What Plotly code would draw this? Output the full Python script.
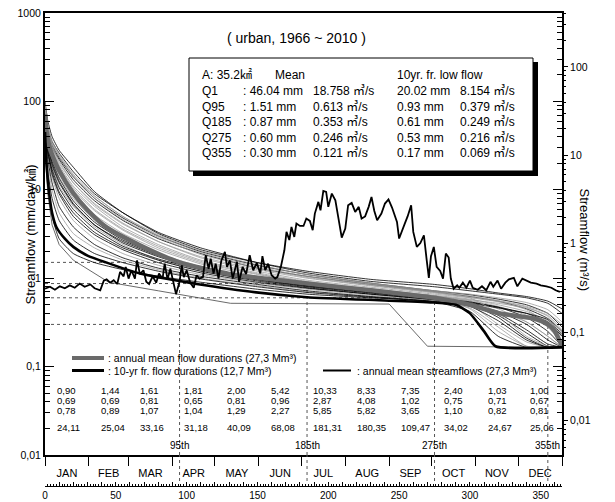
import math
import plotly.graph_objects as go

# ---------------- data ----------------
AREA_KM2 = 35.2
MONTHS = ["JAN", "FEB", "MAR", "APR", "MAY", "JUN", "JUL", "AUG", "SEP", "OCT", "NOV", "DEC"]
MONTH_START = [0, 31, 59, 90, 120, 151, 181, 212, 243, 273, 304, 334, 365]

TABLE_ROW1 = [0.90, 1.44, 1.61, 1.81, 2.00, 5.42, 10.33, 8.33, 7.35, 2.40, 1.03, 1.00]
TABLE_ROW2 = [0.69, 0.69, 0.81, 0.65, 0.81, 0.96, 2.87, 4.08, 1.02, 0.75, 0.71, 0.67]
TABLE_ROW3 = [0.78, 0.89, 1.07, 1.04, 1.29, 2.27, 5.85, 5.82, 3.65, 1.10, 0.82, 0.81]
TABLE_ROW4 = [24.11, 25.04, 33.16, 31.18, 40.09, 68.08, 181.31, 180.35, 109.47, 34.02, 24.67, 25.06]

Q_LABELS = ["Q1", "Q95", "Q185", "Q275", "Q355"]
Q_DAYS = [1, 95, 185, 275, 355]
Q_MEAN_MM = [46.04, 1.51, 0.87, 0.60, 0.30]
Q_MEAN_CMS = [18.758, 0.613, 0.353, 0.246, 0.121]
Q_10YR_MM = [20.02, 0.93, 0.61, 0.53, 0.17]
Q_10YR_CMS = [8.154, 0.379, 0.249, 0.216, 0.069]

# annual flow-duration curves (mm/day) read at these duration days
DAYS = [0, 2, 5, 10, 20, 35, 55, 80, 110, 150, 185, 230, 275, 300, 320, 340, 355, 365]
ANNUAL_FLOW = [
    [90, 45, 30, 22, 13, 7.5, 4.5, 2.8, 1.9, 1.3, 1.05, 0.85, 0.70, 0.62, 0.55, 0.45, 0.35, 0.25],
    [60, 30, 18, 11, 6.5, 3.8, 2.4, 1.6, 1.2, 0.95, 0.80, 0.68, 0.58, 0.50, 0.30, 0.19, 0.165, 0.165],
    [80, 50, 35, 26, 16, 9, 5.5, 3.3, 2.2, 1.5, 1.15, 0.92, 0.80, 0.72, 0.66, 0.60, 0.52, 0.40],
    [40, 20, 10, 5.5, 3.2, 2.2, 1.6, 1.25, 1.0, 0.82, 0.70, 0.62, 0.55, 0.46, 0.28, 0.17, 0.165, 0.165],
    [100, 60, 40, 28, 18, 9.5, 5.5, 3.2, 2.1, 1.5, 1.2, 0.97, 0.85, 0.76, 0.68, 0.62, 0.55, 0.45],
    [70, 35, 22, 14, 8, 4.5, 2.8, 1.9, 1.35, 1.0, 0.85, 0.72, 0.62, 0.56, 0.48, 0.38, 0.28, 0.18],
    [55, 28, 16, 9.5, 5.5, 3.3, 2.2, 1.6, 1.2, 0.93, 0.78, 0.66, 0.57, 0.48, 0.33, 0.20, 0.165, 0.165],
    [75, 42, 28, 19, 11, 6.5, 3.8, 2.4, 1.6, 1.15, 0.92, 0.76, 0.64, 0.58, 0.50, 0.42, 0.33, 0.22],
    [30, 12, 5, 2.8, 1.9, 1.5, 1.25, 1.05, 0.90, 0.75, 0.66, 0.60, 0.55, 0.50, 0.42, 0.30, 0.20, 0.165],
    [65, 38, 25, 17, 10, 5.8, 3.5, 2.2, 1.5, 1.1, 0.90, 0.75, 0.63, 0.55, 0.45, 0.32, 0.22, 0.165],
    [85, 48, 32, 23, 14, 8, 4.8, 3.0, 2.0, 1.4, 1.1, 0.88, 0.72, 0.65, 0.58, 0.50, 0.40, 0.28],
    [50, 25, 14, 8, 4.5, 2.8, 1.9, 1.4, 1.1, 0.88, 0.75, 0.64, 0.56, 0.50, 0.42, 0.32, 0.22, 0.165],
    [45, 22, 12, 6.5, 3.8, 2.4, 1.7, 1.3, 1.05, 0.85, 0.72, 0.62, 0.54, 0.42, 0.22, 0.165, 0.165, 0.165],
    [95, 55, 36, 25, 15, 8.5, 5.0, 3.0, 1.95, 1.35, 1.05, 0.85, 0.70, 0.63, 0.56, 0.48, 0.40, 0.30],
    [68, 33, 20, 12.5, 7, 4.0, 2.6, 1.8, 1.3, 1.0, 0.83, 0.70, 0.60, 0.54, 0.47, 0.40, 0.32, 0.22],
    [78, 40, 26, 18, 10.5, 6, 3.6, 2.3, 1.55, 1.12, 0.90, 0.75, 0.63, 0.57, 0.52, 0.46, 0.38, 0.26],
    [58, 32, 21, 13.5, 7.5, 4.3, 2.7, 1.85, 1.3, 0.98, 0.82, 0.70, 0.60, 0.52, 0.38, 0.24, 0.17, 0.165],
    [88, 46, 31, 21, 12, 6.8, 4.1, 2.6, 1.75, 1.25, 1.0, 0.82, 0.68, 0.61, 0.55, 0.47, 0.37, 0.24],
    [48, 26, 17, 10.5, 6, 3.6, 2.3, 1.65, 1.25, 0.96, 0.80, 0.68, 0.58, 0.53, 0.47, 0.36, 0.25, 0.17],
    [72, 44, 30, 20, 12, 7, 4.2, 2.6, 1.7, 1.2, 0.95, 0.79, 0.66, 0.60, 0.54, 0.44, 0.30, 0.19],
    [62, 30, 19, 12, 6.8, 4, 2.5, 1.75, 1.25, 0.97, 0.82, 0.69, 0.59, 0.51, 0.36, 0.21, 0.165, 0.165],
    [82, 52, 34, 24, 14, 8.5, 5, 3.1, 2.05, 1.42, 1.1, 0.88, 0.72, 0.66, 0.60, 0.53, 0.44, 0.32],
    [38, 16, 8, 4.5, 2.7, 1.9, 1.5, 1.2, 0.98, 0.80, 0.69, 0.61, 0.54, 0.49, 0.40, 0.26, 0.18, 0.165],
    [66, 36, 23, 15, 8.8, 5.2, 3.2, 2.1, 1.45, 1.05, 0.86, 0.73, 0.62, 0.45, 0.25, 0.17, 0.165, 0.165],
    [52, 27, 15, 9, 5, 3.1, 2.1, 1.5, 1.15, 0.9, 0.77, 0.66, 0.57, 0.52, 0.46, 0.40, 0.34, 0.23],
    [92, 50, 33, 24, 14.5, 8, 4.6, 2.9, 1.85, 1.3, 1.02, 0.83, 0.69, 0.60, 0.40, 0.22, 0.17, 0.165],
]

# driest year duration curve
DRY_DAYS = [0, 2, 5, 10, 20, 45, 80, 110, 131, 243, 256, 270, 365]
DRY_VALS = [28, 9, 4, 2.4, 1.6, 0.9, 0.72, 0.60, 0.52, 0.51, 0.30, 0.17, 0.165]

# annual mean flow duration curve
MEAN_DAYS = [0, 1, 3, 5, 10, 20, 30, 43, 67, 95, 130, 185, 230, 275, 300, 321, 345, 355, 360, 365]
MEAN_VALS = [72, 46.04, 31, 25, 16.5, 9.1, 5.9, 3.8, 2.36, 1.51, 1.12, 0.87, 0.73, 0.60, 0.50, 0.40, 0.35, 0.30, 0.25, 0.17]

# 10-yr frequency flow duration curve
TENYR_DAYS = [0, 1, 3, 5, 8, 14, 20, 30, 43, 67, 95, 140, 185, 240, 275, 290, 300, 310, 318, 365]
TENYR_VALS = [45, 20.02, 9, 5.5, 3.8, 2.8, 2.26, 1.8, 1.51, 1.13, 0.93, 0.72, 0.61, 0.56, 0.53, 0.50, 0.40, 0.25, 0.17, 0.165]

# annual mean daily streamflow (mm/day) by day of year
HYDRO_DAYS = [0, 3.5, 7, 10.5, 14, 17.5, 21, 24.5, 28, 32, 35, 39, 41.5, 43.5, 46, 48.5, 51, 53, 55.5, 57,
              59, 61, 63.5, 65, 67, 69.5, 71.5, 73.5, 76, 78.5, 80.5, 83, 84.5, 86.5, 88.5, 90.5, 92.5, 95, 96.5, 98,
              100, 102.5, 105, 107, 109, 111.5, 113.5, 115.5, 117, 119, 120.5, 122.5, 124.5, 127, 128.5, 130.5, 132.5, 135.5, 137, 139.5,
              142, 144.5, 147, 149.5, 152, 153.5, 155.5, 157.5, 160, 162.5, 164, 166.5, 169, 170.5, 172.5, 174, 176, 177.5, 180, 182.5,
              184.5, 187, 189, 190.5, 193, 194.5, 196.5, 198.5, 200, 202.5, 205, 207, 209.5, 212, 214, 216.5, 219, 221.5, 223.5, 226,
              228.5, 230.5, 232.5, 234.5, 237.5, 240, 242.5, 245, 248.5, 250, 252, 254, 256, 258.5, 260, 262.5, 265, 267.5, 269.5, 271,
              272.5, 274.5, 276.5, 279, 281, 283, 285, 286.5, 288.5, 291, 292.5, 295, 297.5, 300, 302, 305.5, 308.5, 311.5, 314.5, 316.5,
              319.5, 322, 325, 327.5, 331, 333.5, 337, 340, 343, 347, 350, 354, 357.5, 360.5, 363.5]
HYDRO_VALS = [0.76, 0.80, 0.74, 0.81, 0.77, 0.83, 0.78, 0.87, 0.80, 0.85, 0.77, 0.73, 0.94, 0.97, 0.89, 0.95, 0.86, 1.18, 1.05, 1.34,
              0.99, 1.23, 0.99, 1.59, 1.11, 1.23, 0.91, 0.86, 1.05, 0.89, 1.13, 0.99, 1.46, 0.97, 1.28, 0.91, 0.66, 0.91, 1.40, 1.03,
              1.23, 0.89, 0.78, 1.08, 0.99, 1.03, 1.82, 1.28, 1.66, 1.13, 1.46, 0.99, 1.59, 1.98, 1.34, 1.59, 0.99, 1.54, 0.91, 1.34,
              1.11, 1.82, 1.23, 1.49, 1.13, 1.78, 1.23, 1.46, 1.08, 0.99, 1.03, 1.34, 2.07, 3.34, 2.7, 3.8, 2.93, 4.15, 3.9, 3.9,
              4.73, 4.45, 3.49, 5.38, 7.3, 5.87, 9.7, 9.47, 6.41, 9.07, 7.62, 4.94, 2.88, 3.64, 6.69, 7.1, 5.62, 6.41, 4.73, 5.0,
              6.41, 8.3, 5.77, 4.53, 5.38, 6.99, 7.8, 6.3, 4.33, 2.81, 3.34, 4.15, 5.0, 6.69, 3.34, 2.26, 2.5, 3.06, 1.59, 1.01,
              1.77, 2.26, 1.34, 1.21, 0.99, 1.90, 1.71, 0.99, 0.76, 0.83, 0.78, 0.89, 0.78, 0.94, 0.78, 0.74, 0.81, 0.73, 0.91, 0.80,
              0.94, 0.76, 0.89, 0.97, 1.01, 0.81, 0.99, 0.94, 0.89, 0.87, 0.83, 0.81, 0.78, 0.73, 0.70]

LEFT_TICKS = [0.01, 0.1, 1, 10, 100, 1000]
RIGHT_TICKS = [0.01, 0.1, 1, 10, 100]
DAY_TICKS = list(range(0, 361, 10))

# ---------------- layout helpers ----------------
W, H = 615, 502
ML, MR, MT, MB = 45, 53, 13, 16
PW, PH = W - ML - MR, H - MT - MB


def px(x):
    return (x - ML) / PW


def py(y):
    return (H - MB - y) / PH


def comma(v):
    return f"{v:.2f}".replace(".", ",")


def tick_txt(v):
    return (f"{v:g}").replace(".", ",")


SANS = "Liberation Sans, Arial, Noto Sans CJK KR, sans-serif"
NARROW = "Liberation Sans Narrow, Arial Narrow, Liberation Sans, Arial, sans-serif"
CJK = "Liberation Sans, Noto Sans CJK KR, sans-serif"

FACTOR = AREA_KM2 * 1000 / 86400.0  # mm/day -> m3/s
GREY = "#9c9c9c"
MEAN_GREY = "#6a6a6a"

fig = go.Figure()

for i, vals in enumerate(ANNUAL_FLOW):
    fig.add_trace(go.Scatter(x=DAYS, y=vals, mode="lines",
                             line=dict(color="#000000" if i % 2 == 0 else GREY, width=0.8,
                                       shape="spline", smoothing=0.5),
                             hoverinfo="skip"))
fig.add_trace(go.Scatter(x=DRY_DAYS, y=DRY_VALS, mode="lines",
                         line=dict(color="#444444", width=0.8), hoverinfo="skip"))
fig.add_trace(go.Scatter(x=MEAN_DAYS, y=MEAN_VALS, mode="lines",
                         line=dict(color=MEAN_GREY, width=4.5, shape="spline", smoothing=0.6),
                         hoverinfo="skip"))
fig.add_trace(go.Scatter(x=TENYR_DAYS, y=TENYR_VALS, mode="lines",
                         line=dict(color="black", width=2.6, shape="spline", smoothing=0.5),
                         hoverinfo="skip"))
fig.add_trace(go.Scatter(x=HYDRO_DAYS, y=HYDRO_VALS, mode="lines",
                         line=dict(color="black", width=1.8), hoverinfo="skip"))
# right axis (m3/s) and day-ruler axis anchors
fig.add_trace(go.Scatter(x=[None], y=[None], yaxis="y2", hoverinfo="skip"))
fig.add_trace(go.Scatter(x=[None], y=[None], xaxis="x2", hoverinfo="skip"))

shapes = []
# dashed reference lines at Q95, Q185, Q275, Q355
for d, v in zip(Q_DAYS[1:], Q_MEAN_MM[1:]):
    dash = dict(color="#555555", width=1, dash="3px,3px")
    shapes.append(dict(type="line", xref="x", yref="y", x0=0, x1=d, y0=v, y1=v, line=dash, layer="below"))
    shapes.append(dict(type="line", xref="x", yref="y", x0=d, x1=d, y0=0.01, y1=v, line=dash, layer="below"))
    shapes.append(dict(type="line", xref="x", yref="paper", x0=d, x1=d, y0=py(481), y1=py(455), line=dash))

# info box with drop shadow
shapes.append(dict(type="rect", xref="paper", yref="paper", x0=px(193), x1=px(538), y0=py(176), y1=py(62),
                   fillcolor="black", line=dict(width=0), layer="above"))
shapes.append(dict(type="rect", xref="paper", yref="paper", x0=px(189), x1=px(533), y0=py(171), y1=py(58),
                   fillcolor="white", line=dict(color="black", width=1), layer="above"))

# legend samples
shapes.append(dict(type="line", xref="paper", yref="paper", x0=px(72), x1=px(104), y0=py(358), y1=py(358),
                   line=dict(color=MEAN_GREY, width=4)))
shapes.append(dict(type="line", xref="paper", yref="paper", x0=px(72), x1=px(104), y0=py(370.5), y1=py(370.5),
                   line=dict(color="black", width=3)))
shapes.append(dict(type="line", xref="paper", yref="paper", x0=px(323), x1=px(351), y0=py(370.5), y1=py(370.5),
                   line=dict(color="black", width=2)))

ann = []


def add_text(x, y, text, size=12, family=SANS, xanchor="left", xref="paper"):
    ann.append(dict(x=x, y=y, xref=xref, yref="paper", text=text, showarrow=False,
                    xanchor=xanchor, yanchor="middle", font=dict(family=family, size=size, color="black")))


add_text(px(296), py(38), "( urban, 1966 ~ 2010 )", size=14, xanchor="center")

# box contents
box_rows = [75, 91, 106.5, 122, 137.5, 153]
add_text(px(200), py(box_rows[0]), f"A: {AREA_KM2}㎢", size=12, family=CJK)
add_text(px(273), py(box_rows[0]), "Mean", size=12)
add_text(px(395), py(box_rows[0]), "10yr. fr. low flow", size=12)
for k, lab in enumerate(Q_LABELS):
    yy = py(box_rows[k + 1])
    add_text(px(200), yy, lab, size=12)
    add_text(px(241), yy, f": {Q_MEAN_MM[k]:.2f} mm", size=12)
    add_text(px(311), yy, f"{Q_MEAN_CMS[k]:.3f} ㎥/s", size=12, family=CJK)
    add_text(px(395), yy, f"{Q_10YR_MM[k]:.2f} mm", size=12)
    add_text(px(458), yy, f"{Q_10YR_CMS[k]:.3f} ㎥/s", size=12, family=CJK)

# legend texts
add_text(px(106), py(358), ": annual mean flow durations (27,3 Mm³)", size=10.5, family=NARROW)
add_text(px(106), py(370.5), ": 10-yr fr. flow durations (12,7 Mm³)", size=10.5, family=NARROW)
add_text(px(355), py(370.5), ": annual mean streamflows (27,3 Mm³)", size=10.5, family=NARROW)

# monthly table
for row, ypix in zip([TABLE_ROW1, TABLE_ROW2, TABLE_ROW3, TABLE_ROW4], [390.5, 400.5, 410.5, 427.5]):
    for m, v in enumerate(row):
        add_text(MONTH_START[m] + 7, py(ypix), comma(v), size=9.5, family=NARROW, xref="x")

# percentile labels
for d in Q_DAYS[1:]:
    add_text(d, py(445), f"{d}th", size=10, family=NARROW, xanchor="center", xref="x")

# axis titles
ann.append(dict(x=px(20), y=py(235), xref="paper", yref="paper", text="Streamflow (mm/day/㎢)",
                showarrow=False, textangle=-90, font=dict(family=CJK, size=13, color="black")))
ann.append(dict(x=px(594), y=py(240), xref="paper", yref="paper", text="Streamflow (m³/s)",
                showarrow=False, textangle=90, font=dict(family=SANS, size=13, color="black")))

left_minor = [k * 10 ** e for e in range(-2, 3) for k in range(2, 10)]
right_minor = [k * 10 ** e for e in range(-3, 3) for k in range(2, 10)
               if 0.01 * FACTOR <= k * 10 ** e <= 1000 * FACTOR]
month_mid = [(MONTH_START[i] + MONTH_START[i + 1]) / 2 for i in range(12)]

fig.update_layout(
    width=W, height=H, margin=dict(l=ML, r=MR, t=MT, b=MB, autoexpand=False),
    paper_bgcolor="white", plot_bgcolor="white", showlegend=False,
    font=dict(family=SANS, size=11, color="black"),
    xaxis=dict(range=[0, 365], domain=[0, 1], anchor="y", showline=True, linecolor="black", linewidth=2,
               mirror=True, showgrid=False, zeroline=False, automargin=False,
               tickmode="array", tickvals=month_mid, ticktext=MONTHS, ticks="outside", ticklen=7,
               tickcolor="rgba(0,0,0,0)", tickfont=dict(family=NARROW, size=11),
               minor=dict(tickmode="array", tickvals=MONTH_START, ticks="outside", ticklen=9,
                          tickcolor="black", tickwidth=1, showgrid=False)),
    xaxis2=dict(range=[0, 365], overlaying="x", anchor="free", position=0, side="bottom",
                showline=True, linecolor="black", linewidth=1, showgrid=False, zeroline=False, automargin=False,
                tickmode="array", tickvals=DAY_TICKS,
                ticktext=[str(d) if d % 50 == 0 else "" for d in DAY_TICKS],
                ticks="inside", ticklen=4, tickcolor="black", tickwidth=1,
                tickfont=dict(family=NARROW, size=10),
                minor=dict(dtick=2, tick0=0, ticks="inside", ticklen=2, tickcolor="black", showgrid=False)),
    yaxis=dict(type="log", range=[-2, 3], domain=[py(455), 1], anchor="x", showline=True, linecolor="black",
               linewidth=2, mirror="ticks", showgrid=False, zeroline=False, automargin=False,
               tickmode="array", tickvals=LEFT_TICKS, ticktext=[tick_txt(v) for v in LEFT_TICKS],
               ticks="inside", ticklen=9, tickcolor="black", tickwidth=1,
               tickfont=dict(family=NARROW, size=10.5),
               minor=dict(tickmode="array", tickvals=left_minor, ticks="inside", ticklen=5,
                          tickcolor="black", showgrid=False)),
    yaxis2=dict(type="log", range=[math.log10(0.01 * FACTOR), math.log10(1000 * FACTOR)],
                overlaying="y", side="right", anchor="x", showline=False, showgrid=False, zeroline=False,
                automargin=False,
                tickmode="array", tickvals=RIGHT_TICKS, ticktext=[tick_txt(v) for v in RIGHT_TICKS],
                ticks="outside", ticklen=5, tickcolor="black", tickwidth=1,
                tickfont=dict(family=NARROW, size=10.5),
                minor=dict(tickmode="array", tickvals=right_minor, ticks="outside", ticklen=3,
                           tickcolor="black", showgrid=False)),
    shapes=shapes, annotations=ann,
)

fig.write_html("out.html")
